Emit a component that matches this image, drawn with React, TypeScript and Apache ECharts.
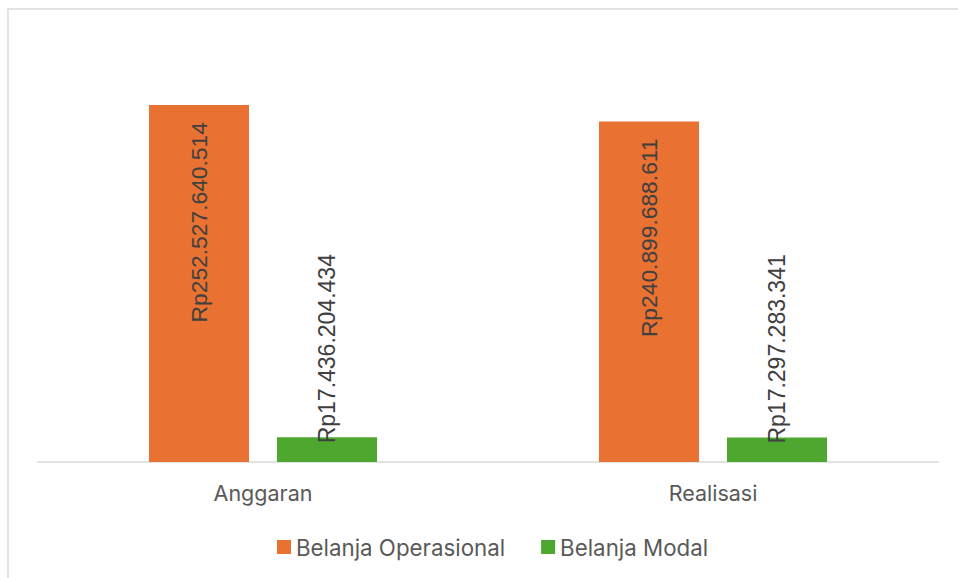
import React, { useEffect, useRef } from "react";
import * as echarts from "echarts";

const categories = ["Anggaran", "Realisasi"];
const seriesNames = ["Belanja Operasional", "Belanja Modal"];
const operasional = [252527640514, 240899688611];
const modal = [17436204434, 17297283341];
const colors = ["#E97132", "#4EA72E"];

function fmt(v: number): string {
  return "Rp" + Math.round(v).toString().replace(/\B(?=(\d{3})+(?!\d))/g, ".");
}

export default function App() {
  const ref = useRef<HTMLDivElement>(null);
  useEffect(() => {
    if (!ref.current) return;
    const chart = echarts.init(ref.current, undefined, { renderer: "svg" });
    const labelFont = "'Liberation Sans', Arial, sans-serif";
    const textFont = "Inter, 'Noto Sans', sans-serif";
    chart.setOption({
      animation: false,
      backgroundColor: "#ffffff",
      textStyle: { fontFamily: textFont },
      graphic: [
        {
          type: "rect",
          shape: { x: 8, y: 9, width: 1000, height: 600 },
          style: { fill: "none", stroke: "#d9d9d9", lineWidth: 1.5 },
          silent: true,
        },
      ],
      grid: { left: 38, right: 20, top: 38, bottom: 116, containLabel: false },
      legend: {
        top: 531,
        left: 272,
        itemWidth: 14,
        itemHeight: 14,
        itemGap: 36,
        icon: "rect",
        textStyle: { fontSize: 22.3, color: "#595959", fontFamily: textFont },
        data: seriesNames,
      },
      xAxis: {
        type: "category",
        data: categories,
        axisLine: { lineStyle: { color: "#d9d9d9", width: 1.5 } },
        axisTick: { show: false },
        axisLabel: { fontSize: 21.5, color: "#595959", margin: 20, fontFamily: textFont },
      },
      yAxis: {
        type: "value",
        min: 0,
        max: 300000000000,
        show: false,
        splitLine: { show: false },
      },
      series: [
        {
          name: seriesNames[0],
          type: "bar",
          data: operasional,
          barWidth: 100,
          barGap: "28%",
          itemStyle: { color: colors[0] },
          label: {
            show: true,
            position: "insideTop",
            distance: 17,
            rotate: 90,
            align: "right",
            verticalAlign: "middle",
            formatter: (p: any) => fmt(p.value),
            fontSize: 22.8,
            color: "#404040",
            fontFamily: labelFont,
          },
        },
        {
          name: seriesNames[1],
          type: "bar",
          data: modal,
          barWidth: 100,
          barGap: "28%",
          itemStyle: { color: colors[1] },
          label: {
            show: true,
            position: "insideTop",
            distance: 6,
            rotate: 90,
            align: "left",
            verticalAlign: "middle",
            formatter: (p: any) => fmt(p.value),
            fontSize: 23,
            color: "#404040",
            fontFamily: labelFont,
          },
        },
      ],
    });
    return () => chart.dispose();
  }, []);
  return <div ref={ref} style={{ width: 958, height: 578, position: "absolute", left: 0, top: 0 }} />;
}
